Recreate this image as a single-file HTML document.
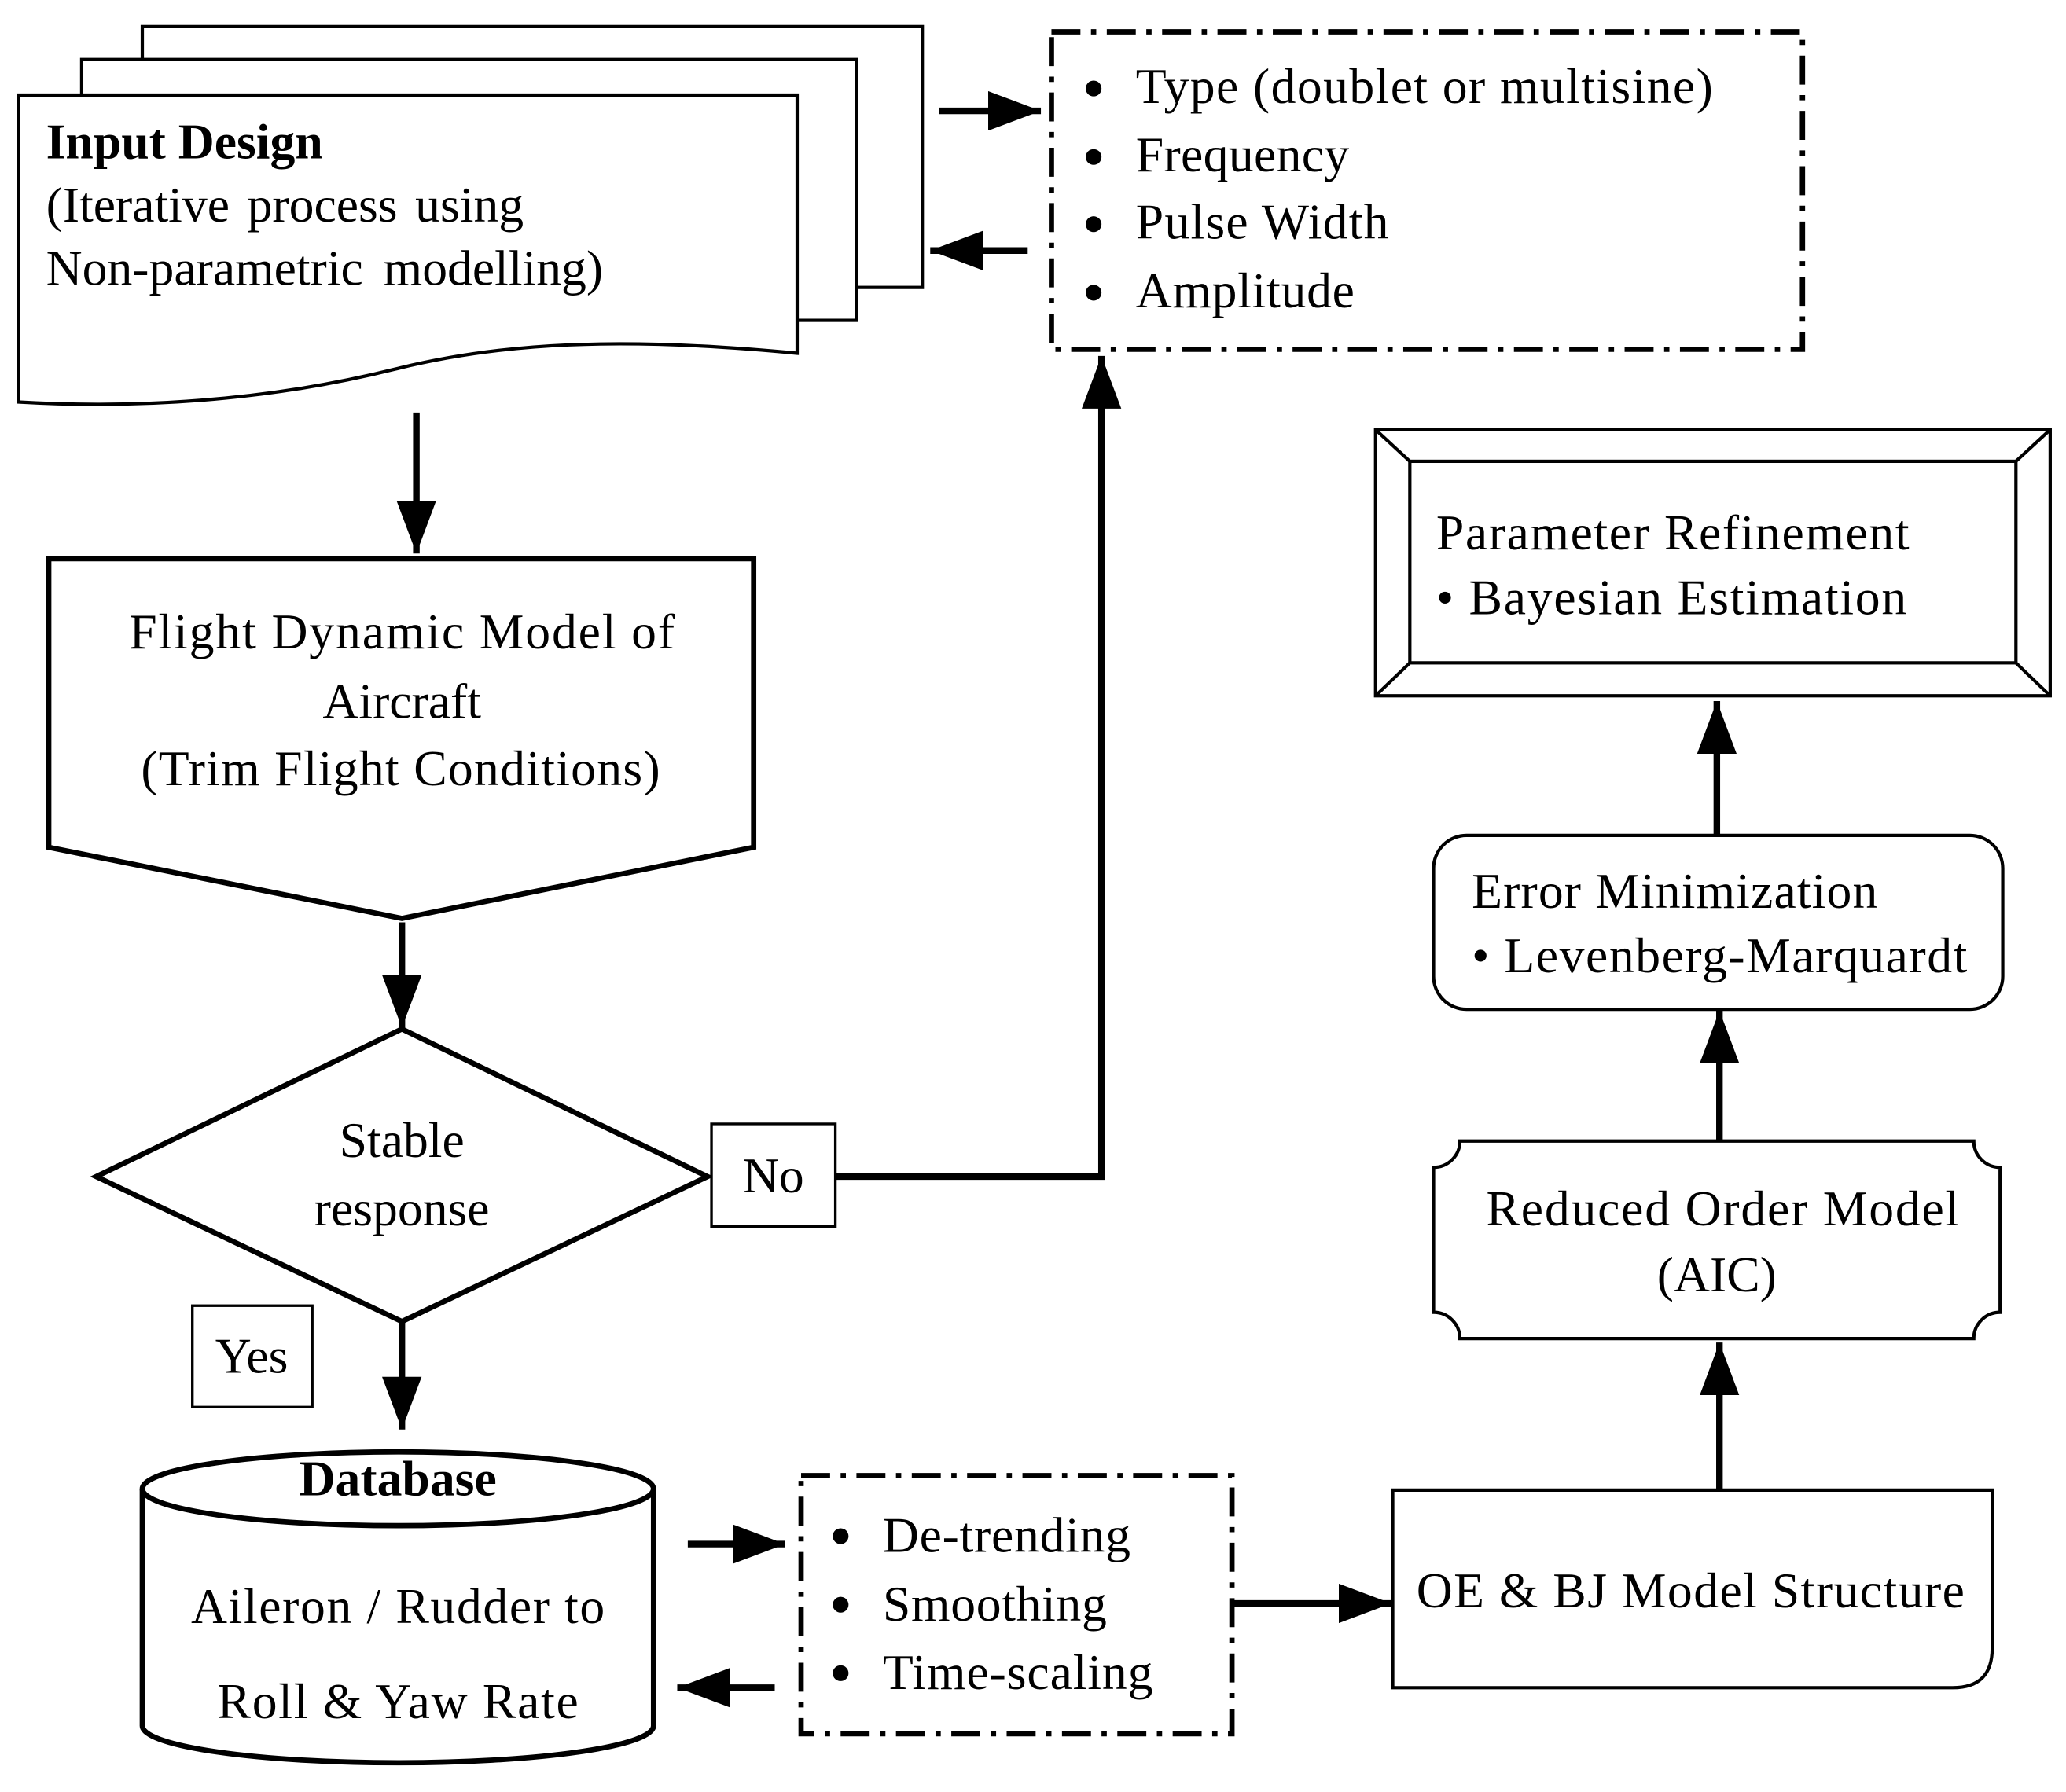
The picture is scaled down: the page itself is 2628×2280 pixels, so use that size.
<!DOCTYPE html>
<html><head><style>
html,body{margin:0;padding:0;background:#fff;}
svg{display:block;}
text{font-family:"Liberation Serif",serif;font-size:38px;fill:#000;}
</style></head><body>
<svg width="2628" height="2280" viewBox="0 0 1568 1360" xmlns="http://www.w3.org/2000/svg">
<defs>
<marker id="ah" markerWidth="8" markerHeight="6" refX="8" refY="3" orient="auto" markerUnits="strokeWidth">
<path d="M0,0 L8,3 L0,6 z" fill="#000"/></marker>
</defs>
<g fill="#fff" stroke="#000" stroke-width="2.5">
<rect x="108" y="20" width="592" height="198"/>
<rect x="62" y="45" width="588" height="198"/>
<path d="M14,72 H605 V268 C470,255 380,260 300,280 C200,305 100,310 14,305 Z"/>
</g>
<text x="35" y="120" style="font-weight:bold">Input Design</text>
<text x="35" y="168" word-spacing="4">(Iterative process using</text>
<text x="35" y="216" word-spacing="6">Non-parametric modelling)</text>

<g stroke="#000" stroke-width="5" fill="none">
<line x1="713" y1="84" x2="790" y2="84" marker-end="url(#ah)"/>
<line x1="780" y1="190" x2="706" y2="190" marker-end="url(#ah)"/>
<line x1="316" y1="313" x2="316" y2="420" marker-end="url(#ah)"/>
<line x1="305" y1="700" x2="305" y2="780" marker-end="url(#ah)"/>
<polyline points="634,893 836,893 836,270" marker-end="url(#ah)"/>
<line x1="305" y1="1003" x2="305" y2="1085" marker-end="url(#ah)"/>
<line x1="522" y1="1172" x2="596" y2="1172" marker-end="url(#ah)"/>
<line x1="588" y1="1281" x2="514" y2="1281" marker-end="url(#ah)"/>
<line x1="935" y1="1217" x2="1056" y2="1217" marker-end="url(#ah)"/>
<line x1="1305" y1="1131" x2="1305" y2="1019" marker-end="url(#ah)"/>
<line x1="1305" y1="866" x2="1305" y2="767" marker-end="url(#ah)"/>
<line x1="1303" y1="634" x2="1303" y2="532" marker-end="url(#ah)"/>
</g>

<rect x="798" y="24" width="570" height="241" fill="none" stroke="#000" stroke-width="4" stroke-dasharray="22,8,4,8"/>
<g>
<circle cx="830" cy="67" r="6"/><text x="862" y="78" textLength="438">Type (doublet or multisine)</text>
<circle cx="830" cy="119" r="6"/><text x="862" y="130" textLength="162">Frequency</text>
<circle cx="830" cy="170" r="6"/><text x="862" y="181" textLength="192">Pulse Width</text>
<circle cx="830" cy="222" r="6"/><text x="862" y="233" textLength="166">Amplitude</text>
</g>

<path d="M37,424 H572 V643 L305,697 L37,643 Z" fill="none" stroke="#000" stroke-width="4"/>
<text x="98" y="492" textLength="414">Flight Dynamic Model of</text>
<text x="305" y="545" text-anchor="middle">Aircraft</text>
<text x="107" y="596" textLength="394">(Trim Flight Conditions)</text>

<path d="M305,781 L537,893 L305,1003 L73,893 Z" fill="none" stroke="#000" stroke-width="4"/>
<text x="305" y="878" text-anchor="middle">Stable</text>
<text x="305" y="930" text-anchor="middle">response</text>

<rect x="540" y="853" width="94" height="78" fill="#fff" stroke="#000" stroke-width="2"/>
<text x="587" y="905" text-anchor="middle">No</text>
<rect x="146" y="991" width="91" height="77" fill="#fff" stroke="#000" stroke-width="2"/>
<text x="191" y="1042" text-anchor="middle">Yes</text>

<g fill="none" stroke="#000" stroke-width="4">
<path d="M108,1130 V1310 A194,28 0 0 0 496,1310 V1130"/>
<ellipse cx="302" cy="1130" rx="194" ry="28"/>
</g>
<text x="302" y="1135" text-anchor="middle" style="font-weight:bold">Database</text>
<text x="145" y="1232" textLength="314">Aileron / Rudder to</text>
<text x="165" y="1304" textLength="274">Roll &amp; Yaw Rate</text>

<rect x="608" y="1120" width="327" height="196" fill="none" stroke="#000" stroke-width="4" stroke-dasharray="22,8,4,8"/>
<circle cx="638" cy="1166" r="6"/><text x="670" y="1178" textLength="188">De-trending</text>
<circle cx="638" cy="1218" r="6"/><text x="670" y="1230" textLength="170">Smoothing</text>
<circle cx="638" cy="1270" r="6"/><text x="670" y="1282" textLength="205">Time-scaling</text>

<path d="M1057,1131 H1512 V1251 Q1512,1281 1482,1281 H1057 Z" fill="none" stroke="#000" stroke-width="2.5"/>
<text x="1075" y="1220" textLength="416">OE &amp; BJ Model Structure</text>

<path d="M1108,866 H1498 A20,20 0 0 0 1518,886 V996 A20,20 0 0 0 1498,1016 H1108 A20,20 0 0 0 1088,996 V886 A20,20 0 0 0 1108,866 Z" fill="none" stroke="#000" stroke-width="2.5"/>
<text x="1128" y="930" textLength="359">Reduced Order Model</text>
<text x="1303" y="980" text-anchor="middle">(AIC)</text>

<rect x="1088" y="634" width="432" height="132" rx="25" fill="none" stroke="#000" stroke-width="2.5"/>
<text x="1117" y="689" textLength="308">Error Minimization</text>
<text x="1117" y="738" textLength="376">• Levenberg-Marquardt</text>

<g fill="none" stroke="#000" stroke-width="2.5">
<rect x="1044" y="326" width="512" height="202"/>
<rect x="1070" y="350" width="460" height="153"/>
<line x1="1044" y1="326" x2="1070" y2="350"/>
<line x1="1556" y1="326" x2="1530" y2="350"/>
<line x1="1044" y1="528" x2="1070" y2="503"/>
<line x1="1556" y1="528" x2="1530" y2="503"/>
</g>
<text x="1090" y="417" textLength="359">Parameter Refinement</text>
<text x="1090" y="466" textLength="357">• Bayesian Estimation</text>
</svg>
</body></html>
